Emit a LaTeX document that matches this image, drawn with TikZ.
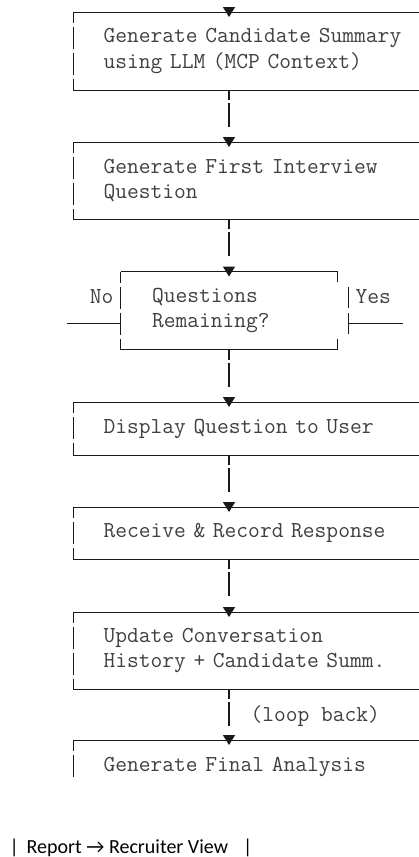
\documentclass[tikz,border=0pt]{standalone}
\usepackage{fontspec}
\newfontfamily\reportfont{Carlito}
\usetikzlibrary{arrows.meta}

\tikzset{
  stepbox/.style={rectangle, anchor=north west, inner xsep=30pt, inner ysep=0pt, text width=340pt, align=left, font=\ttfamily\fontsize{22.86}{25.5}\selectfont, text=black!75},
  decbox/.style={rectangle, inner xsep=31pt, inner ysep=0pt, minimum height=77pt, text width=154pt, align=left, font=\ttfamily\fontsize{22.86}{25.5}\selectfont, text=black!75},
  side/.style={dash pattern=on 22pt off 4pt, dash phase=11pt},
  flow/.style={line width=1.5pt, dash pattern=on 10pt off 3pt on 24pt off 30pt, shorten >=-5pt, -{Triangle[width=12pt,length=10pt]}},
  lbl/.style={inner sep=0pt, font=\ttfamily\fontsize{22.86}{25.5}\selectfont, text=black!75}
}

\begin{document}
\begin{tikzpicture}[x=1pt, y=-1pt, line width=1pt, black!90]
\useasboundingbox (0,0) rectangle (419,857);

\coordinate (spine) at (229,0);
\coordinate (start) at (229,7);

\node (summary) [stepbox, minimum height=77pt] at (73,12) {Generate Candidate Summary\\using LLM (MCP Context)};
\node (firstq) [stepbox, minimum height=76pt] at (73,142) {Generate First Interview\\Question};
\node (remaining) [decbox] at (229,310.5) {Questions\\Remaining?};
\node (display) [stepbox, minimum height=52pt] at (73,402) {Display Question to User};
\node (record) [stepbox, minimum height=51pt] at (73,507) {Receive \& Record Response};
\node (update) [stepbox, minimum height=76pt] at (73,612) {Update Conversation\\History + Candidate Summ.};
\node (final) [stepbox, minimum height=52pt] at (73,740) {Generate Final Analysis};

\draw (summary.north east) -- (summary.north west) (summary.south west) -- (summary.south east);
\draw [side] (summary.north west) -- (summary.south west);
\draw (firstq.north east) -- (firstq.north west) (firstq.south west) -- (firstq.south east);
\draw [side] (firstq.north west) -- (firstq.south west);
\draw (display.north east) -- (display.north west) (display.south west) -- (display.south east);
\draw [side] (display.north west) -- (display.south west);
\draw (record.north east) -- (record.north west) (record.south west) -- (record.south east);
\draw [side] (record.north west) -- (record.south west);
\draw (update.north east) -- (update.north west) (update.south west) -- (update.south east);
\draw [side] (update.north west) -- (update.south west);
\draw (final.north east) -- (final.north west);
\draw [side, shorten >=15pt] (final.north west) -- (final.south west);

\draw (remaining.north west) -- (remaining.north east) -- ++(0,10);
\draw (remaining.south west) -- (remaining.south east) -- ++(0,-11);
\draw [side] (remaining.north west) -- (remaining.south west);
\draw [dash pattern=on 21pt off 5pt] (348,287) -- (348,334);

\coordinate (noend) at (67,323);
\coordinate (yesbar) at (348,323);
\coordinate (yesend) at (403,323);
\draw (remaining.west |- noend) -- (noend);
\draw (yesbar) -- (yesend);
\node (no) [lbl, anchor=base east] at (114,303) {No};
\node (yes) [lbl, anchor=base west] at (355,303) {Yes};

\draw [flow] (start) -- (summary.north -| spine);
\draw [flow] (summary.south -| spine) -- (firstq.north -| spine);
\draw [flow] (firstq.south -| spine) -- (remaining.north);
\draw [flow] (remaining.south) -- (display.north -| spine);
\draw [flow] (display.south -| spine) -- (record.north -| spine);
\draw [flow] (record.south -| spine) -- (update.north -| spine);
\draw [flow] (update.south -| spine) -- (final.north -| spine);
\node (loop) [lbl, anchor=base west] at (250,721) {(loop back)};

\node (report) [anchor=base west, inner sep=0pt, font=\reportfont\fontsize{20}{24}\selectfont, text=black] at (9,853) {|\hspace{8pt}Report → Recruiter View\hspace{15pt}|};

\end{tikzpicture}
\end{document}
